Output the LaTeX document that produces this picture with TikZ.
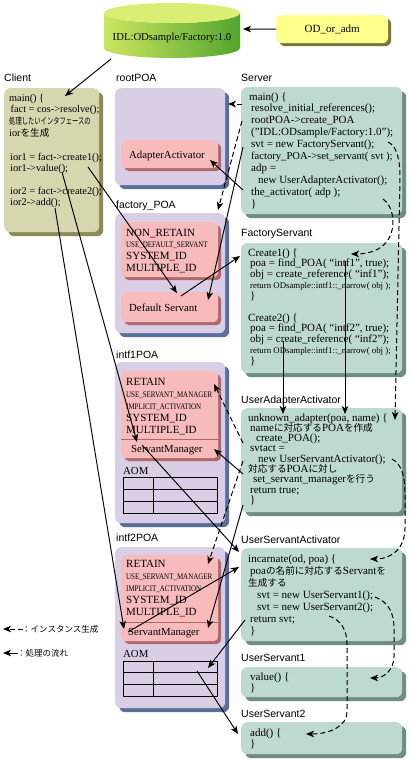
\documentclass[tikz,border=0pt]{standalone}
\usepackage{fontspec}
\usepackage{graphicx}
\setmainfont{Liberation Serif}
\newfontfamily\labfont{Liberation Sans}
\newfontfamily\jpfont{Noto Sans CJK JP}
\usetikzlibrary{arrows.meta,shadows}
\definecolor{lav}{HTML}{D9CEE6}
\definecolor{lavsh}{HTML}{5B6F9B}
\definecolor{pinkf}{HTML}{F8BBBB}
\definecolor{pinksh}{HTML}{B0696B}
\definecolor{tealf}{HTML}{BED9CE}
\definecolor{tealsh}{HTML}{6F8E83}
\definecolor{olivef}{HTML}{D6D6AF}
\definecolor{olivesh}{HTML}{8B8B57}
\definecolor{odf}{HTML}{FFFF8C}
\definecolor{odsh}{HTML}{76763E}
\definecolor{cylL}{HTML}{CDE660}
\definecolor{cylR}{HTML}{52A52E}
\definecolor{cyltop}{HTML}{DAEE74}
\newcommand\jpt[1]{{\jpfont\fontsize{9.6}{11}\selectfont #1}}
\newcommand\cond[1]{\scalebox{0.82}[1]{\fontsize{8.5}{10}\selectfont #1}}
\newcommand\smtxt[1]{{\fontsize{8.8}{10}\selectfont #1}}
\newcommand\codeblock[5]{\foreach \cbline [count=\cbi from 0] in {#5}{\node[code] (#1-\cbi) at (#2,{#3+\cbi*#4}) {\cbline};}}
\newcommand\codeblockR[5]{\foreach \cbline [count=\cbi from 0] in {#5}{\node[codeR] (#1-\cbi) at (#2,{#3+\cbi*#4}) {\cbline};}}
\begin{document}
\begin{tikzpicture}[x=1pt,y=-1pt,
  code/.style={font=\fontsize{10.3}{12}\selectfont, inner sep=0pt, anchor=base west},
  codeR/.style={code, font=\fontsize{11}{12}\selectfont},
  codeM/.style={code, font=\fontsize{10.8}{12}\selectfont},
  polbig/.style={code, font=\fontsize{11}{12}\selectfont},
  lbl/.style={font=\labfont\fontsize{10.5}{12}\selectfont, inner sep=0pt, anchor=base west},
  jpl/.style={font=\jpfont\fontsize{8.5}{10}\selectfont, inner sep=0pt, anchor=base west},
  boxbase/.style={inner sep=0pt, anchor=north west, font=\fontsize{11}{12}\selectfont},
  lavbox/.style={boxbase, fill=lav, rounded corners=6pt, drop shadow={shadow xshift=4pt,shadow yshift=-4pt,fill=lavsh,opacity=1}},
  pinkbox/.style={boxbase, fill=pinkf, rounded corners=5pt, drop shadow={shadow xshift=3pt,shadow yshift=-3pt,fill=pinksh,opacity=1}},
  tealbox/.style={boxbase, fill=tealf, rounded corners=6pt, drop shadow={shadow xshift=4pt,shadow yshift=-4pt,fill=tealsh,opacity=1}},
  olivebox/.style={boxbase, fill=olivef, rounded corners=6pt, drop shadow={shadow xshift=4pt,shadow yshift=-4pt,fill=olivesh,opacity=1}},
  odbox/.style={boxbase, fill=odf, rounded corners=6pt, drop shadow={shadow xshift=3pt,shadow yshift=-3pt,fill=odsh,opacity=1}},
  flow/.style={draw, line width=0.95pt, -{Stealth[length=8pt,width=6.5pt,inset=2.2pt]}},
  inst/.style={flow, line width=1pt, dash pattern=on 5pt off 3pt},
  tbl/.style={draw, line width=0.6pt},
  divline/.style={draw=pinksh, line width=0.7pt}]
\fill[white] (0,0) rectangle (410,761);
\useasboundingbox (0,0) rectangle (410,761);

% repository cylinder
\shade[left color=cylL, right color=cylR] (104,13) -- (104,48) arc[start angle=180,end angle=360,x radius=68pt,y radius=10pt] -- (240,13) arc[start angle=0,end angle=-180,x radius=68pt,y radius=10pt] -- cycle;
\fill[cyltop] (172,13) ellipse[x radius=68pt, y radius=10pt];
\node[code, anchor=center, font=\fontsize{10.7}{12}\selectfont] (repo) at (172,38) {IDL:ODsample/Factory:1.0};
\node[odbox, minimum width=112pt, minimum height=28pt] (odadm) at (276,15) {OD\_or\_adm};

% boxes
\node[olivebox, minimum width=95pt, minimum height=144pt] (client) at (4,88) {};
\node[lavbox, minimum width=110pt, minimum height=97pt] (rootpoa) at (115,88) {};
\node[pinkbox, minimum width=97pt, minimum height=28pt] (aa) at (121,140) {};
\node[tealbox, minimum width=161pt, minimum height=127pt] (server) at (241,87) {};
\node[lavbox, minimum width=110pt, minimum height=120pt] (fpoa) at (115,213) {};
\node[pinkbox, minimum width=97pt, minimum height=55pt] (fpol) at (121,222) {};
\node[pinkbox, minimum width=97pt, minimum height=30pt] (ds) at (121,292) {};
\node[tealbox, minimum width=161pt, minimum height=130pt] (fserv) at (241,243) {};
\node[lavbox, minimum width=110pt, minimum height=161pt] (i1poa) at (115,362) {};
\node[pinkbox, minimum width=97pt, minimum height=87pt] (i1pol) at (121,371) {};
\node[tealbox, minimum width=161pt, minimum height=104pt] (uaa) at (241,408) {};
\node[lavbox, minimum width=110pt, minimum height=161pt] (i2poa) at (115,547) {};
\node[pinkbox, minimum width=97pt, minimum height=86pt] (i2pol) at (121,555) {};
\node[tealbox, minimum width=161pt, minimum height=93pt] (usa) at (241,548) {};
\node[tealbox, minimum width=161pt, minimum height=30pt] (us1) at (241,667) {};
\node[tealbox, minimum width=161pt, minimum height=32pt] (us2) at (241,722) {};

\draw[divline] (121,439) -- (218,439);
\draw[divline] (121,622) -- (218,622);

% AOM tables
\node[codeM] (aom1) at (123,474) {AOM};
\draw[tbl] (123,477) rectangle (217,513);
\draw[tbl] (123,489) -- (217,489) (123,501) -- (217,501) (153,477) -- (153,513);
\node[codeM] (aom2) at (123,657) {AOM};
\draw[tbl] (123,661) rectangle (217,696);
\draw[tbl] (123,672.7) -- (217,672.7) (123,684.3) -- (217,684.3) (153,661) -- (153,696);

% labels
\node[lbl] (l-client) at (4,81) {Client};
\node[lbl] (l-root) at (116,81) {rootPOA};
\node[lbl] (l-server) at (241,81) {Server};
\node[lbl] (l-fpoa) at (116,208) {factory\_POA};
\node[lbl] (l-fserv) at (241,236) {FactoryServant};
\node[lbl] (l-i1) at (116,358) {intf1POA};
\node[lbl] (l-uaa) at (241,403) {UserAdapterActivator};
\node[lbl] (l-i2) at (116,541) {intf2POA};
\node[lbl] (l-usa) at (241,543) {UserServantActivator};
\node[lbl] (l-us1) at (241,661) {UserServant1};
\node[lbl] (l-us2) at (241,717) {UserServant2};

% box texts
\node[codeM] (aa-t) at (129,158) {AdapterActivator};
\node[codeM] (ds-t) at (129,311) {Default Servant};
\node[codeM] (i1sm-t) at (131,452) {ServantManager};
\node[codeM] (i2sm-t) at (128,635) {ServantManager};

\node[polbig] (fp-0) at (126,236) {NON\_RETAIN};
\node[code] (fp-1) at (126,247.5) {\cond{USE\_DEFAULT\_SERVANT}};
\node[polbig] (fp-2) at (126,259) {SYSTEM\_ID};
\node[polbig] (fp-3) at (126,271) {MULTIPLE\_ID};

\node[polbig] (p1-0) at (126,385) {RETAIN};
\node[code] (p1-1) at (126,397) {\cond{USE\_SERVANT\_MANAGER}};
\node[code] (p1-2) at (126,409) {\cond{IMPLICIT\_ACTIVATION}};
\node[polbig] (p1-3) at (126,421) {SYSTEM\_ID};
\node[polbig] (p1-4) at (126,433) {MULTIPLE\_ID};

\node[polbig] (p2-0) at (126,567) {RETAIN};
\node[code] (p2-1) at (126,579) {\cond{USE\_SERVANT\_MANAGER}};
\node[code] (p2-2) at (126,591) {\cond{IMPLICIT\_ACTIVATION}};
\node[polbig] (p2-3) at (126,603) {SYSTEM\_ID};
\node[polbig] (p2-4) at (126,615) {MULTIPLE\_ID};

\codeblock{cl}{9}{101}{11.8}{{main() \{},{\hspace{1.5pt}fact = cos->resolve();},{\scalebox{0.7}[1]{\jpfont\fontsize{9}{10}\selectfont 処理したいインタフェースの}},{ior\jpt{を生成}}}
\codeblock{clb}{10}{160}{11.8}{{ior1 = fact->create1();},{ior1->value();}}
\codeblock{clc}{10}{194}{11.8}{{ior2 = fact->create2();},{ior2->add();}}

\codeblockR{sv}{249}{100}{11.9}{{main() \{},{\hspace{2pt}resolve\_initial\_references();},{\hspace{2pt}rootPOA->create\_POA},{\hspace{2pt}("IDL:ODsample/Factory:1.0");},{\hspace{2pt}svt = new FactoryServant();},{\hspace{2pt}{\fontsize{10.6}{11}\selectfont factory\_POA->set\_servant( svt );}},{\hspace{2pt}adp =},{\hspace{9pt}new UserAdapterActivator();},{\hspace{2pt}the\_activator( adp );},{\hspace{2pt}\}}}

\codeblockR{fsa}{248}{256}{10.9}{{Create1() \{},{\hspace{2pt}poa = find\_POA( “intf1”, true);},{\hspace{2pt}obj = create\_reference( “inf1”);},{\hspace{2pt}\smtxt{return ODsample::intf1::\_narrow( obj );}},{\hspace{2pt}\}}}
\codeblockR{fsb}{248}{321}{10.9}{{Create2() \{},{\hspace{2pt}poa = find\_POA( “intf2”, true);},{\hspace{2pt}obj = create\_reference( “inf2”);},{\hspace{2pt}\smtxt{return ODsample::intf1::\_narrow( obj );}},{\hspace{2pt}\}}}

\codeblockR{ua}{248}{421}{10.3}{{unknown\_adapter(poa, name) \{},{\hspace{2pt}name\jpt{に対応する}POA\jpt{を作成}},{\hspace{8pt}create\_POA();},{\hspace{2pt}svtact =},{\hspace{10pt}new UserServantActivator();},{\jpt{対応する}POA\jpt{に対し}},{\hspace{5pt}set\_servant\_manager\jpt{を行う}},{\hspace{2pt}return true;},{\hspace{2pt}\}}}

\codeblockR{us}{248}{562}{12}{{incarnate(od, poa) \{},{\hspace{2pt}poa\jpt{の名前に対応する}Servant\jpt{を}},{\jpt{生成する}},{\hspace{9pt}svt = new UserServant1();},{\hspace{9pt}svt = new UserServant2();},{\hspace{2pt}return svt;},{\hspace{2pt}\}}}

\codeblockR{usa1}{250}{680}{11}{{value() \{},{\}}}
\codeblockR{usa2}{250}{736}{11}{{add() \{},{\}}}

% connector end points
\coordinate (c-repo-r) at (243,29);
\coordinate (c-repo-bl) at (111,59);
\coordinate (c-client-in) at (65,96);
\coordinate (c-cr1) at (88,167);
\coordinate (c-ds-in) at (177,293);
\coordinate (c-val) at (62,172);
\coordinate (c-i1sm-in) at (137,442);
\coordinate (c-add) at (55,208);
\coordinate (c-i2sm-in) at (124,629);
\coordinate (c-ds-out) at (181,296);
\coordinate (c-fs-in) at (240,256);
\coordinate (c-sv-svt) at (243,147);
\coordinate (c-ds-in2) at (208,300);
\coordinate (c-sv-act) at (243,190);
\coordinate (c-aa-in) at (210,160);
\coordinate (c-sv-root) at (242,104);
\coordinate (c-root-in) at (228,104);
\coordinate (c-sv-cpoa) at (242,121);
\coordinate (c-fpoa-in) at (218,210);
\coordinate (c-sv-d1) at (388,142);
\coordinate (c-uaa-d) at (395,420);
\coordinate (c-sv-d2) at (383,199);
\coordinate (c-fs-d) at (351,254);
\coordinate (c-fs-f1) at (345,261);
\coordinate (c-uaa-f1) at (345,414);
\coordinate (c-fs-f2) at (283,341);
\coordinate (c-uaa-f2) at (283,414);
\coordinate (c-ua-cp) at (243,443);
\coordinate (c-i1ret) at (214,384);
\coordinate (c-ua-ssm) at (243,474);
\coordinate (c-i1sm-r) at (214,449);
\coordinate (c-ua-d2) at (243,461);
\coordinate (c-i2ret) at (208,564);
\coordinate (c-ua-ret) at (243,505);
\coordinate (c-i2sm-r) at (208,628);
\coordinate (c-i1sm-out) at (142,445);
\coordinate (c-usa-in1) at (239,552);
\coordinate (c-i2sm-out) at (128,632);
\coordinate (c-usa-in2) at (239,567);
\coordinate (c-usa-ret) at (245,620);
\coordinate (c-aom2-in) at (208,668);
\coordinate (c-aom2-out) at (197,671);
\coordinate (c-us2-in) at (238,734);
\coordinate (c-ua-d3) at (392,459);
\coordinate (c-usa-d) at (370,559);
\coordinate (c-usa-d1) at (375,597);
\coordinate (c-us1-d) at (370,678);
\coordinate (c-usa-d2) at (329,616);
\coordinate (c-us2-d) at (306,734);

% processing flow
\draw[flow] (odadm.west) -- (c-repo-r);
\draw[flow] (c-repo-bl) -- (c-client-in);
\draw[flow] (c-cr1) -- (c-ds-in);
\draw[flow] (c-val) -- (c-i1sm-in);
\draw[flow] (c-add) -- (c-i2sm-in);
\draw[flow] (c-ds-out) -- (c-fs-in);
\draw[flow] (c-sv-svt) -- (c-ds-in2);
\draw[flow] (c-sv-act) -- (c-aa-in);
\draw[flow] (c-fs-f1) -- (c-uaa-f1);
\draw[flow] (c-fs-f2) -- (c-uaa-f2);
\draw[flow] (c-ua-ssm) -- (c-i1sm-r);
\draw[flow] (c-ua-ret) -- (c-i2sm-r);
\draw[flow] (c-i1sm-out) -- (c-usa-in1);
\draw[flow] (c-i2sm-out) -- (c-usa-in2);
\draw[flow] (c-usa-ret) -- (c-aom2-in);
\draw[flow] (c-aom2-out) -- (c-us2-in);

% instance creation
\draw[inst] (c-sv-root) -- (c-root-in);
\draw[inst] (c-sv-cpoa) -- (c-fpoa-in);
\draw[inst] (c-sv-d1) .. controls (397,146) and (400,160) .. (400,178) -- (c-uaa-d);
\draw[inst] (c-sv-d2) .. controls (393,206) and (395,222) .. (391,234) .. controls (386,248) and (372,254) .. (c-fs-d);
\draw[inst] (c-ua-cp) -- (c-i1ret);
\draw[inst] (c-ua-d2) -- (c-i2ret);
\draw[inst] (c-ua-d3) .. controls (402,464) and (405,478) .. (405,492) -- (405,528) .. controls (405,548) and (392,559) .. (c-usa-d);
\draw[inst] (c-usa-d1) .. controls (389,602) and (394,614) .. (394,628) -- (394,656) .. controls (394,670) and (384,678) .. (c-us1-d);
\draw[inst] (c-usa-d2) .. controls (341,620) and (347,630) .. (347,644) -- (347,712) .. controls (347,726) and (330,734) .. (c-us2-d);

% legend
\coordinate (lg1s) at (23,629);
\coordinate (lg1e) at (3,629);
\draw[inst] (lg1s) -- (lg1e);
\node[jpl] (lg1t) at (22,632.5) {：インスタンス生成};
\coordinate (lg2s) at (18,653);
\coordinate (lg2e) at (3,653);
\draw[flow] (lg2s) -- (lg2e);
\node[jpl] (lg2t) at (17,656.5) {：処理の流れ};
\end{tikzpicture}
\end{document}
